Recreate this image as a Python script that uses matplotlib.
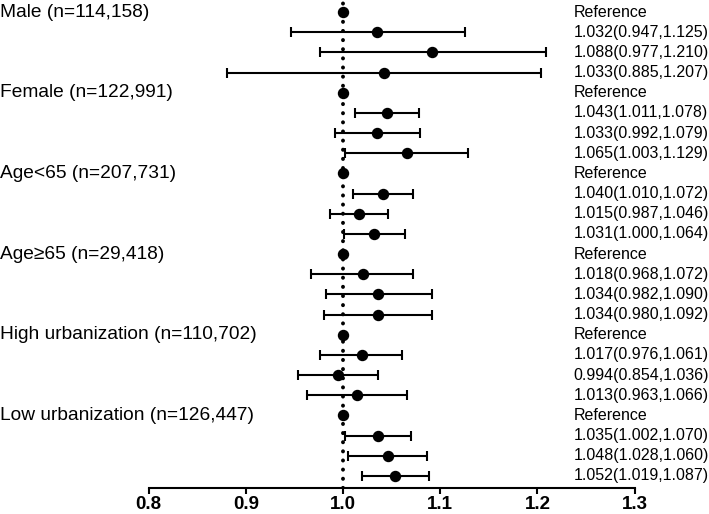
import matplotlib
matplotlib.use("Agg")
import matplotlib.pyplot as plt
import matplotlib.transforms as mtransforms

# groups and their labels
groups = ["Male (n=114,158)", "Female (n=122,991)", "Age<65 (n=207,731)",
          "Age\u226565 (n=29,418)", "High urbanization (n=110,702)",
          "Low urbanization (n=126,447)"]

# each group: reference row + 3 estimates
est = [1.000, 1.035, 1.092, 1.042,
       1.000, 1.045, 1.035, 1.066,
       1.000, 1.041, 1.016, 1.032,
       1.000, 1.021, 1.036, 1.036,
       1.000, 1.019, 0.995, 1.014,
       1.000, 1.036, 1.046, 1.053]
lo = [None, 0.946, 0.976, 0.881,
      None, 1.012, 0.992, 1.002,
      None, 1.010, 0.987, 1.001,
      None, 0.967, 0.982, 0.980,
      None, 0.976, 0.954, 0.963,
      None, 1.002, 1.005, 1.020]
hi = [None, 1.125, 1.209, 1.204,
      None, 1.078, 1.079, 1.129,
      None, 1.072, 1.046, 1.064,
      None, 1.072, 1.091, 1.092,
      None, 1.061, 1.036, 1.066,
      None, 1.070, 1.086, 1.088]

right_labels = ["Reference", "1.032(0.947,1.125)", "1.088(0.977,1.210)", "1.033(0.885,1.207)",
                "Reference", "1.043(1.011,1.078)", "1.033(0.992,1.079)", "1.065(1.003,1.129)",
                "Reference", "1.040(1.010,1.072)", "1.015(0.987,1.046)", "1.031(1.000,1.064)",
                "Reference", "1.018(0.968,1.072)", "1.034(0.982,1.090)", "1.034(0.980,1.092)",
                "Reference", "1.017(0.976,1.061)", "0.994(0.854,1.036)", "1.013(0.963,1.066)",
                "Reference", "1.035(1.002,1.070)", "1.048(1.028,1.060)", "1.052(1.019,1.087)"]

xticks = [0.8, 0.9, 1.0, 1.1, 1.2, 1.3]

plt.rcParams['font.family'] = ['Liberation Sans', 'DejaVu Sans']

fig = plt.figure(figsize=(7.09, 5.14), dpi=100)
ax = fig.add_axes([0.2096, 0.0506, 0.6856, 0.9494])

n = len(est)
ys = [-i for i in range(n)]

#Reference line
ax.plot([1.0, 1.0], [-n + 0.4, 0.6], color='black', lw=2.8,
        linestyle=(0, (0.05, 2.3)), dash_capstyle='round', zorder=1)

for i in range(n):
    y = ys[i]
    if lo[i] is not None:
        ax.errorbar(est[i], y, xerr=[[est[i] - lo[i]], [hi[i] - est[i]]],
                    fmt='none', ecolor='black', elinewidth=1.5,
                    capsize=3.3, capthick=1.5, zorder=2)
    ax.plot(est[i], y, 'o', color='black', markersize=7.2, zorder=3)
    ax.text(1.237, y, right_labels[i], fontsize=11.5, va='center', ha='left',
            clip_on=False)

# group labels on the left
trans = mtransforms.blended_transform_factory(fig.transFigure, ax.transData)
for g, label in enumerate(groups):
    ax.text(0.0, ys[g * 4], label, transform=trans, fontsize=13.8,
            va='center', ha='left')

ax.set_xlim(0.8, 1.3)
ax.set_ylim(-n + 0.4, 0.6)

for s in ['top', 'right', 'left']:
    ax.spines[s].set_visible(False)
ax.spines['bottom'].set_linewidth(1.5)
ax.set_yticks([])
ax.set_xticks(xticks)
ax.set_xticklabels(["%.1f" % t for t in xticks], fontweight='bold', fontsize=13.5,
                   family=['Liberation Sans Narrow', 'Liberation Sans'])
ax.tick_params(axis='x', direction='out', length=4, width=1.5, pad=2)

fig.savefig("out.png", dpi=100)
